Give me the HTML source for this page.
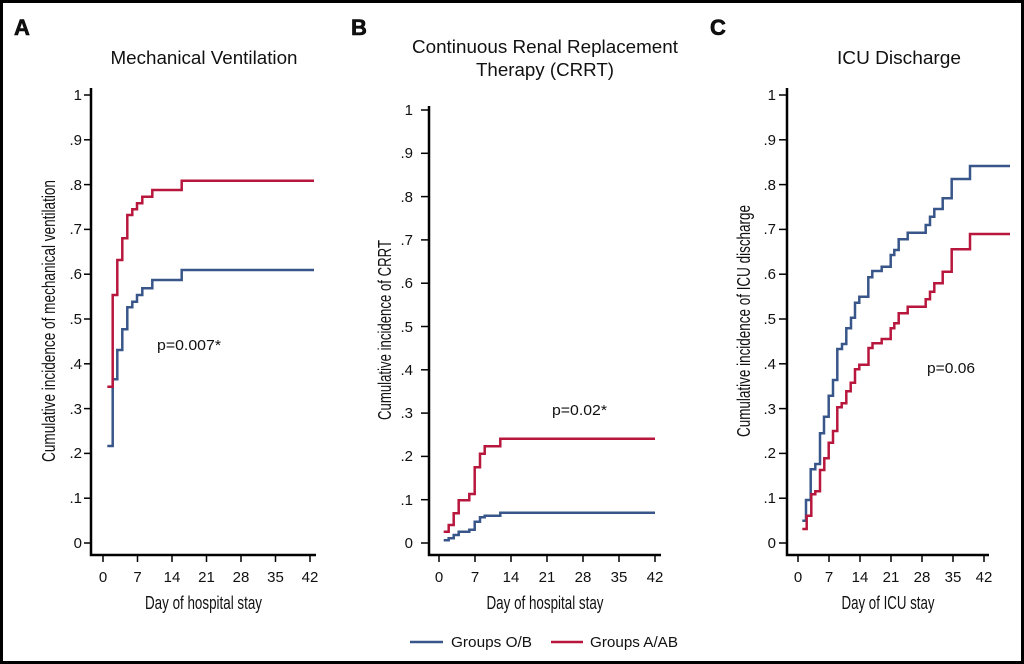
<!DOCTYPE html>
<html>
<head>
<meta charset="utf-8">
<style>
  html, body { margin: 0; padding: 0; background: #fff; }
  svg { display: block; }
  text { font-family: "Liberation Sans", "DejaVu Sans", sans-serif; fill: #111; }
</style>
</head>
<body>
<svg width="1024" height="664" viewBox="0 0 1024 664" xmlns="http://www.w3.org/2000/svg">
  <rect x="0" y="0" width="1024" height="664" fill="#000"/>
  <rect x="3" y="3" width="1018" height="658" fill="#fff"/>

  <!-- Panel letters -->
  <text x="14" y="35" font-size="22" font-weight="900" fill="#000" stroke="#000" stroke-width="0.6">A</text>
  <text x="351" y="35" font-size="22" font-weight="900" fill="#000" stroke="#000" stroke-width="0.6">B</text>
  <text x="710" y="35" font-size="22" font-weight="900" fill="#000" stroke="#000" stroke-width="0.6">C</text>

  <!-- Titles -->
  <text x="204" y="64" font-size="18" text-anchor="middle" textLength="187" lengthAdjust="spacingAndGlyphs">Mechanical Ventilation</text>
  <text x="545" y="53" font-size="18" text-anchor="middle" textLength="266" lengthAdjust="spacingAndGlyphs">Continuous Renal Replacement</text>
  <text x="545" y="76" font-size="18" text-anchor="middle" textLength="138" lengthAdjust="spacingAndGlyphs">Therapy (CRRT)</text>
  <text x="899" y="64" font-size="18" text-anchor="middle" textLength="124" lengthAdjust="spacingAndGlyphs">ICU Discharge</text>

  <!-- ============ Panel A ============ -->
  <g stroke="#000" stroke-width="2.5" fill="none">
    <path d="M91 88 V555 H316"/>
  </g>
  <g stroke="#000" stroke-width="1.5">
    <line x1="84" y1="95" x2="91" y2="95"/>
    <line x1="84" y1="139.8" x2="91" y2="139.8"/>
    <line x1="84" y1="184.6" x2="91" y2="184.6"/>
    <line x1="84" y1="229.4" x2="91" y2="229.4"/>
    <line x1="84" y1="274.2" x2="91" y2="274.2"/>
    <line x1="84" y1="319" x2="91" y2="319"/>
    <line x1="84" y1="363.8" x2="91" y2="363.8"/>
    <line x1="84" y1="408.6" x2="91" y2="408.6"/>
    <line x1="84" y1="453.4" x2="91" y2="453.4"/>
    <line x1="84" y1="498.2" x2="91" y2="498.2"/>
    <line x1="84" y1="543" x2="91" y2="543"/>
    <line x1="103" y1="555" x2="103" y2="562"/>
    <line x1="137.5" y1="555" x2="137.5" y2="562"/>
    <line x1="172" y1="555" x2="172" y2="562"/>
    <line x1="206.5" y1="555" x2="206.5" y2="562"/>
    <line x1="241" y1="555" x2="241" y2="562"/>
    <line x1="275.5" y1="555" x2="275.5" y2="562"/>
    <line x1="310" y1="555" x2="310" y2="562"/>
  </g>
  <g font-size="15" text-anchor="end">
    <text x="82" y="100">1</text>
    <text x="82" y="145">.9</text>
    <text x="82" y="190">.8</text>
    <text x="82" y="234">.7</text>
    <text x="82" y="279">.6</text>
    <text x="82" y="324">.5</text>
    <text x="82" y="369">.4</text>
    <text x="82" y="414">.3</text>
    <text x="82" y="458">.2</text>
    <text x="82" y="503">.1</text>
    <text x="82" y="548">0</text>
  </g>
  <g font-size="15" text-anchor="middle">
    <text x="103" y="582">0</text>
    <text x="137.5" y="582">7</text>
    <text x="172" y="582">14</text>
    <text x="206.5" y="582">21</text>
    <text x="241" y="582">28</text>
    <text x="275.5" y="582">35</text>
    <text x="310" y="582">42</text>
  </g>
  <text x="203.5" y="609" font-size="18.5" text-anchor="middle" textLength="117" lengthAdjust="spacingAndGlyphs">Day of hospital stay</text>
  <text transform="translate(55,321) rotate(-90)" font-size="18.5" text-anchor="middle" textLength="282" lengthAdjust="spacingAndGlyphs">Cumulative incidence of mechanical ventilation</text>
  <text x="157" y="350" font-size="15" textLength="64" lengthAdjust="spacingAndGlyphs">p=0.007*</text>
  <g fill="none" stroke-width="2.5">
    <path stroke="#385689" d="M107.3 446 H112.7 V379.3 H117.3 V350 H122.3 V329.3 H127.3 V307.3 H132.3 V301.7 H137 V295 H142.3 V288.3 H152.3 V280 H181.7 V270 H314"/>
    <path stroke="#b8173d" d="M107.3 386.7 H112.7 V295 H117.3 V260 H122.3 V238.3 H127.3 V215 H132.3 V209.3 H137 V203.3 H142.3 V196.7 H152.3 V190 H181.7 V180.7 H314"/>
  </g>

  <!-- ============ Panel B ============ -->
  <g stroke="#000" stroke-width="2.5" fill="none">
    <path d="M429 106 V555 H661"/>
  </g>
  <g stroke="#000" stroke-width="1.5">
    <line x1="421" y1="110" x2="429" y2="110"/>
    <line x1="421" y1="153.3" x2="429" y2="153.3"/>
    <line x1="421" y1="196.6" x2="429" y2="196.6"/>
    <line x1="421" y1="239.9" x2="429" y2="239.9"/>
    <line x1="421" y1="283.2" x2="429" y2="283.2"/>
    <line x1="421" y1="326.5" x2="429" y2="326.5"/>
    <line x1="421" y1="369.8" x2="429" y2="369.8"/>
    <line x1="421" y1="413.1" x2="429" y2="413.1"/>
    <line x1="421" y1="456.4" x2="429" y2="456.4"/>
    <line x1="421" y1="499.7" x2="429" y2="499.7"/>
    <line x1="421" y1="543" x2="429" y2="543"/>
    <line x1="439" y1="555" x2="439" y2="562"/>
    <line x1="475" y1="555" x2="475" y2="562"/>
    <line x1="511" y1="555" x2="511" y2="562"/>
    <line x1="547" y1="555" x2="547" y2="562"/>
    <line x1="583" y1="555" x2="583" y2="562"/>
    <line x1="619" y1="555" x2="619" y2="562"/>
    <line x1="655" y1="555" x2="655" y2="562"/>
  </g>
  <g font-size="15" text-anchor="end">
    <text x="413" y="115">1</text>
    <text x="413" y="158">.9</text>
    <text x="413" y="202">.8</text>
    <text x="413" y="245">.7</text>
    <text x="413" y="288">.6</text>
    <text x="413" y="332">.5</text>
    <text x="413" y="375">.4</text>
    <text x="413" y="418">.3</text>
    <text x="413" y="461">.2</text>
    <text x="413" y="505">.1</text>
    <text x="413" y="548">0</text>
  </g>
  <g font-size="15" text-anchor="middle">
    <text x="439" y="582">0</text>
    <text x="475" y="582">7</text>
    <text x="511" y="582">14</text>
    <text x="547" y="582">21</text>
    <text x="583" y="582">28</text>
    <text x="619" y="582">35</text>
    <text x="655" y="582">42</text>
  </g>
  <text x="545" y="609" font-size="18.5" text-anchor="middle" textLength="117" lengthAdjust="spacingAndGlyphs">Day of hospital stay</text>
  <text transform="translate(391,330) rotate(-90)" font-size="18.5" text-anchor="middle" textLength="180" lengthAdjust="spacingAndGlyphs">Cumulative incidence of CRRT</text>
  <text x="552" y="415" font-size="15" textLength="55" lengthAdjust="spacingAndGlyphs">p=0.02*</text>
  <g fill="none" stroke-width="2.5">
    <path stroke="#385689" d="M443.7 540.3 H448.7 V538.3 H453.7 V535 H458.7 V531.7 H469.3 V529.7 H474.7 V521.7 H480 V517.3 H484.7 V515.7 H500.3 V512.7 H655"/>
    <path stroke="#b8173d" d="M443.7 531.7 H448.7 V525 H453.7 V513.3 H458.7 V500.3 H469.3 V494 H474.7 V467.3 H480 V453.7 H484.7 V446.3 H500.3 V438.7 H655"/>
  </g>

  <!-- ============ Panel C ============ -->
  <g stroke="#000" stroke-width="2.5" fill="none">
    <path d="M787 88 V555 H989"/>
  </g>
  <g stroke="#000" stroke-width="1.5">
    <line x1="779" y1="95" x2="787" y2="95"/>
    <line x1="779" y1="139.8" x2="787" y2="139.8"/>
    <line x1="779" y1="184.6" x2="787" y2="184.6"/>
    <line x1="779" y1="229.4" x2="787" y2="229.4"/>
    <line x1="779" y1="274.2" x2="787" y2="274.2"/>
    <line x1="779" y1="319" x2="787" y2="319"/>
    <line x1="779" y1="363.8" x2="787" y2="363.8"/>
    <line x1="779" y1="408.6" x2="787" y2="408.6"/>
    <line x1="779" y1="453.4" x2="787" y2="453.4"/>
    <line x1="779" y1="498.2" x2="787" y2="498.2"/>
    <line x1="779" y1="543" x2="787" y2="543"/>
    <line x1="798" y1="555" x2="798" y2="562"/>
    <line x1="829" y1="555" x2="829" y2="562"/>
    <line x1="860" y1="555" x2="860" y2="562"/>
    <line x1="891" y1="555" x2="891" y2="562"/>
    <line x1="922" y1="555" x2="922" y2="562"/>
    <line x1="953" y1="555" x2="953" y2="562"/>
    <line x1="984" y1="555" x2="984" y2="562"/>
  </g>
  <g font-size="15" text-anchor="end">
    <text x="776" y="100">1</text>
    <text x="776" y="145">.9</text>
    <text x="776" y="190">.8</text>
    <text x="776" y="234">.7</text>
    <text x="776" y="279">.6</text>
    <text x="776" y="324">.5</text>
    <text x="776" y="369">.4</text>
    <text x="776" y="414">.3</text>
    <text x="776" y="458">.2</text>
    <text x="776" y="503">.1</text>
    <text x="776" y="548">0</text>
  </g>
  <g font-size="15" text-anchor="middle">
    <text x="798" y="582">0</text>
    <text x="829" y="582">7</text>
    <text x="860" y="582">14</text>
    <text x="891" y="582">21</text>
    <text x="922" y="582">28</text>
    <text x="953" y="582">35</text>
    <text x="984" y="582">42</text>
  </g>
  <text x="888" y="609" font-size="18.5" text-anchor="middle" textLength="93" lengthAdjust="spacingAndGlyphs">Day of ICU stay</text>
  <text transform="translate(750,321) rotate(-90)" font-size="18.5" text-anchor="middle" textLength="232" lengthAdjust="spacingAndGlyphs">Cumulative incidence of ICU discharge</text>
  <text x="927" y="373" font-size="15" textLength="48" lengthAdjust="spacingAndGlyphs">p=0.06</text>
  <g fill="none" stroke-width="2.5">
    <path stroke="#385689" d="M802.3 520.7 H806 V500 H810.7 V469.3 H815.3 V464 H820 V433.3 H824 V416.7 H828.7 V395.7 H833 V380 H837.3 V349 H842 V344 H846.3 V328.3 H851 V317.7 H855 V302.7 H859.3 V296.7 H868.3 V277.3 H872.3 V271 H881.7 V266.7 H890.7 V255 H894.3 V250 H898.7 V239.3 H907.7 V232.7 H925.7 V225 H930 V216.7 H934.3 V209 H942.7 V198.3 H951.7 V179 H970 V166 H1010"/>
    <path stroke="#b8173d" d="M802.3 529 H806.7 V515.7 H811.3 V494.3 H815.3 V491.3 H820 V470 H824.3 V458.3 H828.7 V442.7 H833 V431 H837.3 V407.3 H841.7 V403.3 H846.3 V391.3 H850.7 V382.7 H855 V369.3 H859.3 V364.7 H868.5 V348 H872.5 V343.3 H881.7 V339 H890.7 V328.3 H894.3 V323.3 H898.7 V313.3 H907.7 V306.7 H925.7 V299.3 H930 V291.7 H934.3 V283.3 H942.7 V271.7 H951.7 V249.3 H970 V234 H1010"/>
  </g>

  <!-- Legend -->
  <line x1="410" y1="642" x2="443" y2="642" stroke="#385689" stroke-width="2.5"/>
  <text x="451" y="647" font-size="15" textLength="81" lengthAdjust="spacingAndGlyphs">Groups O/B</text>
  <line x1="551" y1="642" x2="583" y2="642" stroke="#b8173d" stroke-width="2.5"/>
  <text x="590" y="647" font-size="15" textLength="88" lengthAdjust="spacingAndGlyphs">Groups A/AB</text>
</svg>
</body>
</html>
